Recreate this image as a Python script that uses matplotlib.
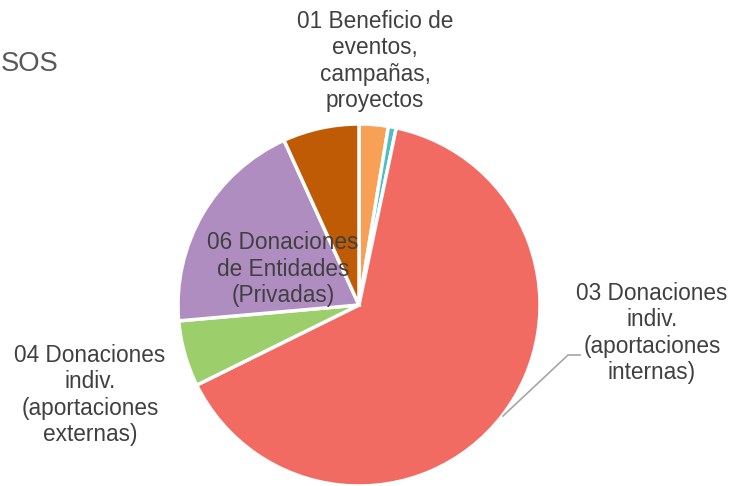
import matplotlib.pyplot as plt

plt.rcParams['font.family'] = ['Liberation Sans', 'DejaVu Sans']

# Slices, clockwise from 12 o'clock (% share)
categories = ['01 Beneficio de\neventos,\ncampañas,\nproyectos',
              '02',
              '03 Donaciones\nindiv.\n(aportaciones\ninternas)',
              '04 Donaciones\nindiv.\n(aportaciones\nexternas)',
              '06 Donaciones\nde Entidades\n(Privadas)',
              '07']
values = [2.6, 0.7, 64.4, 5.9, 19.6, 6.8]
colors = ['#F9A057', '#4BBFC1', '#F26B63', '#9CCF6B', '#B08DC0', '#BF5B04']

W, H = 743, 486
fig = plt.figure(figsize=(W / 100, H / 100), dpi=100)
ax = fig.add_axes([0, 0, 1, 1])

cx, cy, r = 359, H - 305, 181
ax.pie(values, colors=colors, startangle=90, counterclock=False,
       center=(cx, cy), radius=r, frame=True,
       wedgeprops=dict(edgecolor='white', linewidth=2.5))
ax.set_xlim(0, W)
ax.set_ylim(0, H)
ax.set_aspect('equal')
ax.axis('off')

txt = dict(fontsize=16.3, color='#404040', ha='center', va='center', linespacing=1.2)
ax.text(375, H - 61, categories[0], **txt)
ax.text(283, H - 269, categories[4], **txt)
ax.text(652, H - 333, categories[2], **txt)
ax.text(90, H - 395, categories[3], **txt)

# leader line for the 03 label
ax.plot([503, 568, 580], [H - 416, H - 355, H - 355], color='#A6A6A6', lw=1.2)

# partially visible chart title
ax.text(1, H - 64, 'SOS', fontsize=19.7, color='#595959', ha='left', va='center')

plt.savefig('out.png', dpi=100)
